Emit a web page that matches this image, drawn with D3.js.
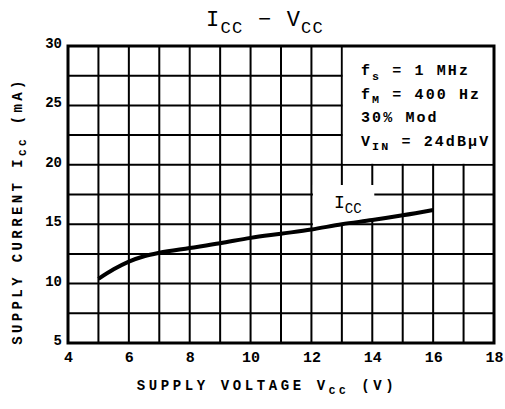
<!DOCTYPE html>
<html>
<head>
<meta charset="utf-8">
<script src="https://cdn.jsdelivr.net/npm/d3@7"></script>
<style>
  body { margin: 0; background: #fff; }
  text { font-family: "Liberation Mono", "DejaVu Sans Mono", monospace; font-weight: bold; fill: #000; }
</style>
</head>
<body>
<svg width="505" height="409"></svg>
<script>
// supply voltage (V) vs supply current (mA)
const vcc = [5, 5.5, 6, 6.5, 7, 8, 9, 10, 11, 12, 13, 14, 15, 16];
const icc = [10.4, 11.2, 11.85, 12.3, 12.6, 13.0, 13.4, 13.85, 14.2, 14.55, 15.0, 15.35, 15.75, 16.2];
const xTicks = [4, 6, 8, 10, 12, 14, 16, 18];
const yTicks = [5, 10, 15, 20, 25, 30];
const legendLines = [
  ["f", "s", " = 1 MHz"],
  ["f", "M", " = 400 Hz"],
  ["30% Mod", "", ""],
  ["V", "IN", " = 24dBμV"]
];

const svg = d3.select("svg");
const x = d3.scaleLinear().domain([4, 18]).range([68, 494]);
const y = d3.scaleLinear().domain([5, 30]).range([343, 46]);
const data = vcc.map((v, i) => ({ v: v, i: icc[i] }));

// grid
const grid = svg.append("g").attr("stroke", "#000").attr("stroke-width", 2);
grid.selectAll(".vl").data(d3.range(4, 19, 1)).enter().append("line")
    .attr("x1", d => x(d)).attr("x2", d => x(d))
    .attr("y1", y(30)).attr("y2", y(5));
grid.selectAll(".hl").data(d3.range(5, 30.1, 2.5)).enter().append("line")
    .attr("x1", x(4)).attr("x2", x(18))
    .attr("y1", d => y(d)).attr("y2", d => y(d));

// legend box blanks the grid
svg.append("rect")
    .attr("x", x(13) + 1).attr("y", y(30) + 1)
    .attr("width", x(18) - x(13) - 2).attr("height", y(20) - y(30) - 2)
    .attr("fill", "#fff");

// blank area behind the curve label
const labelArea = d3.area()
    .x(d => x(d.v))
    .y0(d => y(d.i) - 1)
    .y1(y(18.3));
svg.append("clipPath").attr("id", "lab")
  .append("rect")
    .attr("x", x(12) + 1.5).attr("y", 0)
    .attr("width", x(14) - x(12) + 0.5).attr("height", 409);
svg.append("path")
    .datum(data.filter(d => d.v >= 11 && d.v <= 15))
    .attr("clip-path", "url(#lab)")
    .attr("fill", "#fff")
    .attr("d", labelArea);

// frame
svg.append("rect")
    .attr("x", x(4)).attr("y", y(30))
    .attr("width", x(18) - x(4)).attr("height", y(5) - y(30))
    .attr("fill", "none").attr("stroke", "#000").attr("stroke-width", 3);

// curve
svg.append("path")
    .datum(data)
    .attr("fill", "none")
    .attr("stroke", "#000")
    .attr("stroke-width", 4)
    .attr("d", d3.line().x(d => x(d.v)).y(d => y(d.i)).curve(d3.curveMonotoneX));

// axes (labels only)
const gx = svg.append("g")
    .attr("transform", "translate(0," + (y(5) + 4) + ")")
    .call(d3.axisBottom(x).tickValues(xTicks).tickSize(0).tickPadding(4));
gx.select(".domain").remove();
gx.selectAll("text").style("font-size", "15px").style("font-family", null);

const gy = svg.append("g")
    .attr("transform", "translate(" + (x(4) - 3) + ",0)")
    .call(d3.axisLeft(y).tickValues(yTicks).tickSize(0).tickPadding(3));
gy.select(".domain").remove();
gy.selectAll("text").style("font-size", "14px").style("font-family", null).attr("dy", "0.1em");

// subscripted text helper
function subText(sel, main, sub, rest, size) {
  sel.append("tspan").text(main);
  if (sub) sel.append("tspan").attr("dy", size * 0.3).style("font-size", (size * 0.78) + "px").text(sub);
  if (rest) sel.append("tspan").attr("dy", sub ? -size * 0.3 : 0).text(rest);
}

// title
const title = svg.append("text").attr("x", 265).attr("y", 26)
    .attr("text-anchor", "middle").style("font-size", "22px").style("font-weight", "normal")
    .style("letter-spacing", "1.2px");
subText(title, "I", "CC", " − V", 22);
title.append("tspan").attr("dy", 22 * 0.3).style("font-size", "17px").text("CC");

// curve label
const lab = svg.append("text").attr("x", 334).attr("y", 208).style("font-size", "18px").style("font-weight", "normal");
subText(lab, "I", "CC", "", 18);

// legend
legendLines.forEach((l, k) => {
  const t = svg.append("text").attr("x", 361).attr("y", 75 + k * 23.5)
      .style("font-size", "15px").style("letter-spacing", "2.1px");
  subText(t, l[0], l[1], l[2], 15);
});

// axis titles
const xt = svg.append("text").attr("x", 267).attr("y", 390)
    .attr("text-anchor", "middle").style("font-size", "14px").style("letter-spacing", "3.6px");
subText(xt, "SUPPLY VOLTAGE  V", "CC", " (V)", 14);

const yt = svg.append("text")
    .attr("transform", "translate(22,211) rotate(-90)")
    .attr("text-anchor", "middle").style("font-size", "14px").style("letter-spacing", "3.4px");
subText(yt, "SUPPLY CURRENT  I", "CC", " (mA)", 14);
</script>
</body>
</html>
